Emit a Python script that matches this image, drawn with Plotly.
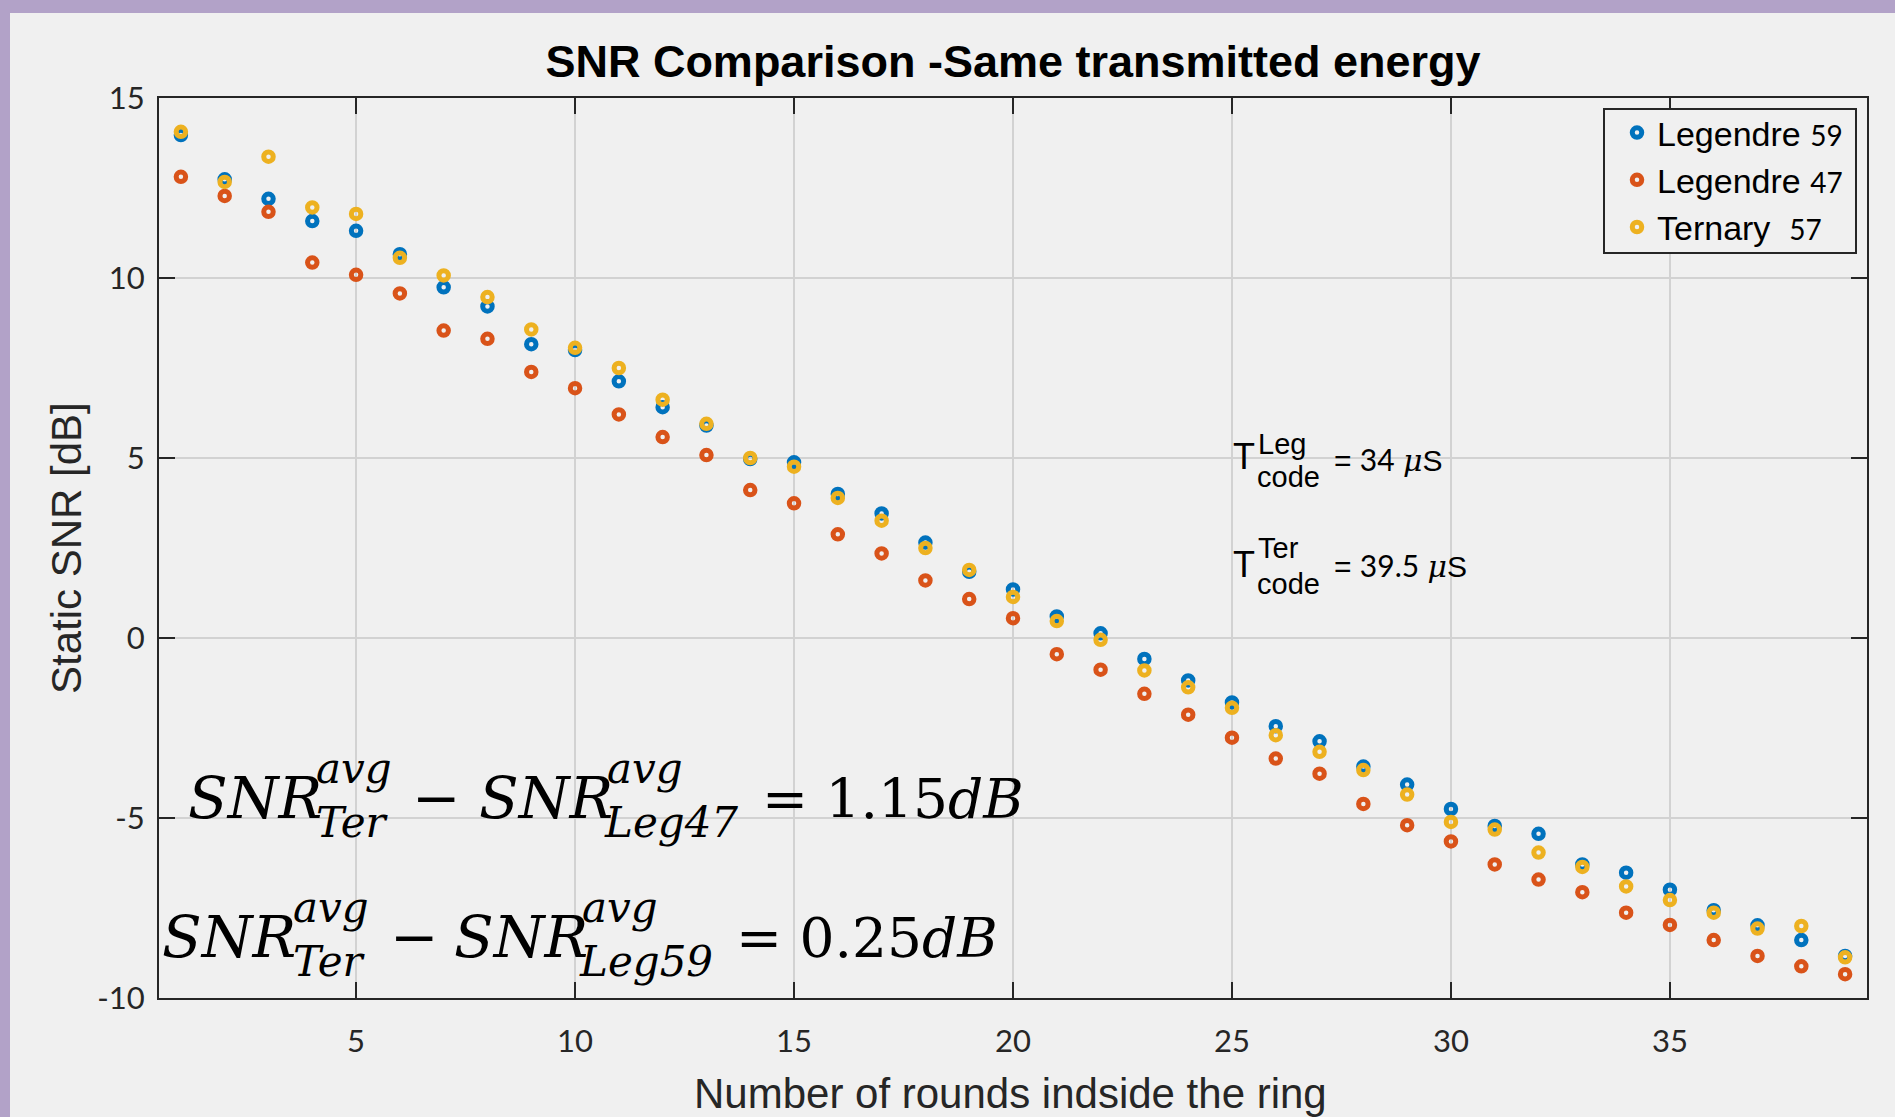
import plotly.graph_objects as go

# ---------------- data ----------------
rounds = list(range(1, 40))
legendre59 = [13.97, 12.74, 12.20, 11.58, 11.31, 10.66, 9.74, 9.21, 8.16, 8.00,
              7.13, 6.41, 5.90, 4.97, 4.88, 4.00, 3.46, 2.65, 1.84, 1.35,
              0.60, 0.13, -0.58, -1.18, -1.79, -2.45, -2.87, -3.57, -4.07, -4.75,
              -5.22, -5.44, -6.29, -6.52, -6.99, -7.56, -7.98, -8.39, -8.83]
legendre47 = [12.81, 12.28, 11.84, 10.43, 10.09, 9.57, 8.54, 8.31, 7.39, 6.94,
              6.21, 5.58, 5.08, 4.11, 3.74, 2.88, 2.35, 1.60, 1.08, 0.55,
              -0.45, -0.88, -1.55, -2.13, -2.77, -3.35, -3.77, -4.61, -5.20, -5.65,
              -6.29, -6.71, -7.06, -7.63, -7.97, -8.39, -8.83, -9.12, -9.34]
ternary57 = [14.06, 12.67, 13.37, 11.96, 11.78, 10.56, 10.07, 9.47, 8.57, 8.06,
             7.50, 6.62, 5.95, 5.00, 4.76, 3.89, 3.26, 2.50, 1.89, 1.14,
             0.47, -0.05, -0.90, -1.37, -1.94, -2.70, -3.16, -3.67, -4.35, -5.11,
             -5.32, -5.96, -6.36, -6.90, -7.28, -7.63, -8.07, -8.00, -8.87]

x_tick_vals = [5, 10, 15, 20, 25, 30, 35]
x_tick_text = ["5", "10", "15", "20", "25", "30", "35"]
y_tick_vals = [-10, -5, 0, 5, 10, 15]
y_tick_text = ["-10", "-5", "0", "5", "10", "15"]

series_names = ["Legendre <span style='font-family:Lato;font-size:28px'>59</span>",
                "Legendre <span style='font-family:Lato;font-size:28px'>47</span>",
                "Ternary\u00a0 <span style='font-family:Lato;font-size:28px'>57</span>"]
series_colors = ["#0072BD", "#D95319", "#EDB120"]

title_text = "SNR Comparison -Same transmitted energy"
x_label = "Number of rounds indside the ring"
y_label = "Static SNR [dB]"

# ---------------- layout geometry (pixels) ----------------
W, H = 1895, 1117
L, R, T, B = 159, 1867, 98, 998
BG = "#f0f0f0"
AX = "#262626"
SANS = "Liberation Sans, Arial, sans-serif"
MATH = "DejaVu Serif, serif"


def px(xp, yp):
    return (xp - L) / (R - L), (B - yp) / (B - T)


fig = go.Figure()
for ys, name, col in zip([legendre59, legendre47, ternary57], series_names, series_colors):
    fig.add_trace(go.Scatter(
        x=rounds, y=ys, mode="markers", name=name,
        marker=dict(symbol="circle-open", size=9.5, color=col,
                    line=dict(width=5, color=col)),
    ))

annotations = []


def ann(xp, yp, text, size, family=SANS, color="#000000", xanchor="left",
        yanchor="middle", angle=0, style="normal"):
    ax_, ay_ = px(xp, yp)
    annotations.append(dict(
        x=ax_, y=ay_, xref="paper", yref="paper", text=text, showarrow=False,
        xanchor=xanchor, yanchor=yanchor, textangle=angle,
        font=dict(size=size, family=family, color=color, style=style),
    ))


# axis titles
ann(1010, 1093, x_label, 42, color=AX, xanchor="center")
ann(66, 548, y_label, 42, color=AX, xanchor="center", angle=-90)

# T_code annotations
tail_span = "<span style='font-family:Lato'>{}</span> <span style='font-family:DejaVu Serif;font-style:italic'>\u03bc</span>S"
ann(1231, 456, "T", 36)
ann(1256, 444, "Leg", 29)
ann(1255, 477, "code", 29)
ann(1332, 459, "= " + tail_span.format("34"), 30)

ann(1231, 564, "T", 36)
ann(1256, 548, "Ter", 29)
ann(1255, 584, "code", 29)
ann(1332, 565, "= " + tail_span.format("39.5"), 30)

# formulas
MS, SS, VS = 58, 42, 55


def formula(base, sub2, value, xs):
    # xs: positions [SNR, supsub1, minus, SNR2, supsub2, equals]
    c_main = base - 0.346 * MS
    c_val = base - 0.346 * VS
    c_sup = (base - 35) - 0.346 * SS
    c_sub = (base + 19) - 0.346 * SS
    ann(xs[0], c_main, "SNR", MS, family=MATH, style="italic")
    ann(xs[1], c_sup, "avg", SS, family=MATH, style="italic")
    ann(xs[1], c_sub, "Ter", SS, family=MATH, style="italic")
    ann(xs[2], c_main, "\u2212", MS, family=MATH)
    ann(xs[3], c_main, "SNR", MS, family=MATH, style="italic")
    ann(xs[4], c_sup, "avg", SS, family=MATH, style="italic")
    ann(xs[4] - 3, c_sub, sub2, SS, family=MATH, style="italic")
    ann(xs[5], c_val, "= " + value + "<i>dB</i>", VS, family=MATH)


formula(818, "Leg47", "1.15", [186, 314, 410, 477, 605, 760])
formula(957, "Leg59", "0.25", [160, 291, 388, 452, 580, 734])

# purple frame
PURPLE = "#b2a2c8"
shapes = []
x0p, y0p = px(0, 0)
x1p, y1p = px(W, 13)
shapes.append(dict(type="rect", xref="paper", yref="paper", x0=x0p, x1=x1p, y0=y1p, y1=y0p,
                   fillcolor=PURPLE, line=dict(width=0), layer="below"))
x0p, y0p = px(0, 0)
x1p, y1p = px(10, H)
shapes.append(dict(type="rect", xref="paper", yref="paper", x0=x0p, x1=x1p, y0=y1p, y1=y0p,
                   fillcolor=PURPLE, line=dict(width=0), layer="below"))
# legend box
lx0, ly0 = px(1604, 109)
lx1, ly1 = px(1856, 253)
shapes.append(dict(type="rect", xref="paper", yref="paper", x0=lx0, x1=lx1, y0=ly1, y1=ly0,
                   fillcolor=BG, line=dict(width=2, color=AX), layer="above"))

axis_common = dict(
    showline=True, linewidth=2, linecolor=AX, mirror="ticks",
    ticks="inside", ticklen=16, tickwidth=2, tickcolor=AX,
    showgrid=True, gridcolor="#d2d2d2", gridwidth=2, zeroline=False,
    tickfont=dict(family="Lato, sans-serif", size=31, color=AX),
)

fig.update_layout(
    width=W, height=H,
    margin=dict(l=L, r=W - R, t=T, b=H - B, pad=0),
    paper_bgcolor=BG, plot_bgcolor=BG,
    title=dict(text="<b>" + title_text + "</b>", x=0.5, xref="paper", xanchor="center",
               y=1 - 61 / H, yref="container", yanchor="middle",
               font=dict(family=SANS, size=45, color="#000000")),
    xaxis=dict(range=[0.5, 39.5], tickvals=x_tick_vals, ticktext=x_tick_text,
               ticklabelstandoff=15, **axis_common),
    yaxis=dict(range=[-10, 15], tickvals=y_tick_vals, ticktext=y_tick_text,
               ticklabelstandoff=6, **axis_common),
    legend=dict(x=(1617 - L) / (R - L), y=(B - 104) / (B - T), xanchor="left", yanchor="top",
                bgcolor="rgba(0,0,0,0)", borderwidth=0,
                font=dict(family=SANS, size=34, color="#000000"),
                itemsizing="trace"),
    annotations=annotations,
    shapes=shapes,
    showlegend=True,
)

fig.write_html("out.html")
